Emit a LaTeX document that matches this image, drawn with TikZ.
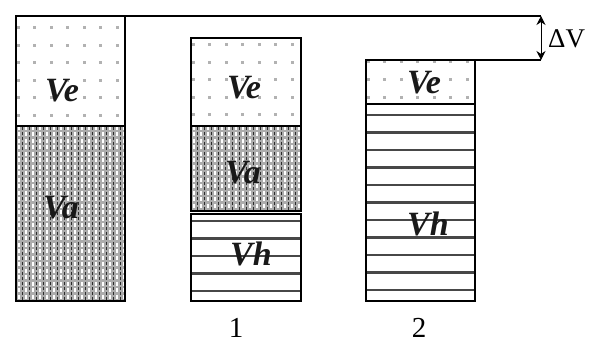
\documentclass[tikz,border=0pt]{standalone}
\usepackage{fontspec}
\setmainfont{Liberation Serif}
\usetikzlibrary{arrows.meta}
\begin{document}
\begin{tikzpicture}[x=1pt,y=-1pt,
  box/.style={draw=black,line width=1.5pt},
  vlab/.style={font=\fontsize{34}{34}\selectfont\bfseries\itshape, inner sep=0pt, text=black!90},
  numlab/.style={font=\fontsize{29}{29}\selectfont, inner sep=0pt},
  dvlab/.style={font=\fontsize{27}{27}\selectfont, inner sep=0pt, anchor=west},
  hl/.style={draw=black!72,line width=2.6pt},
  dotc/.style={fill=gray!60},
  conn/.style={draw=black,line width=1.2pt}]
\useasboundingbox (0,0) rectangle (594,344);
\fill[white] (0,0) rectangle (594,344);

% ---------- Ve dot regions
\begin{scope}
  \clip (16,16) rectangle (125,126);
  \foreach \x in {18,34.5,...,125} \foreach \y in {28,45.5,...,126}
    \fill[dotc] (\x-1.5,\y-1.5) rectangle (\x+1.5,\y+1.5);
\end{scope}
\begin{scope}
  \clip (191,38) rectangle (301,126);
  \foreach \x in {193,209.5,...,301} \foreach \y in {45,62.5,...,126}
    \fill[dotc] (\x-1.5,\y-1.5) rectangle (\x+1.5,\y+1.5);
\end{scope}
\begin{scope}
  \clip (366,60) rectangle (475,104);
  \foreach \x in {368,384.5,...,475} \foreach \y in {62,80,98}
    \fill[dotc] (\x-1.5,\y-1.5) rectangle (\x+1.5,\y+1.5);
\end{scope}

% ---------- Va textured regions
\begin{scope}
  \clip (16,126) rectangle (125,301);
  \fill[gray!65] (16,126) rectangle (125,301);
  \foreach \x in {19,26,...,125}
    \draw[white,line width=2pt,dash pattern=on 4pt off 2.5pt] (\x,126) -- (\x,301);
  \foreach \x in {22.5,29.5,...,125}
    \draw[gray!35!black,line width=0.7pt,dash pattern=on 3pt off 2pt] (\x,127) -- (\x,301);
\end{scope}
\begin{scope}
  \clip (191,126) rectangle (301,211);
  \fill[gray!65] (191,126) rectangle (301,211);
  \foreach \x in {194,201,...,301}
    \draw[white,line width=2pt,dash pattern=on 4pt off 2.5pt] (\x,126) -- (\x,211);
  \foreach \x in {197.5,204.5,...,301}
    \draw[gray!35!black,line width=0.7pt,dash pattern=on 3pt off 2pt] (\x,127) -- (\x,211);
\end{scope}

% ---------- Vh hatched regions
\foreach \y in {221,238.5,...,300}
  \draw[hl] (191,\y) -- (301,\y);
\foreach \y in {115,132.5,...,300}
  \draw[hl] (366,\y) -- (475,\y);

% ---------- outlines
\draw[box] (16,16) rectangle (125,301);
\draw[box] (16,126) -- (125,126);
\draw[box] (191,38) rectangle (301,211);
\draw[box] (191,126) -- (301,126);
\draw[box] (191,214) rectangle (301,301);
\draw[box] (366,60) rectangle (475,301);
\draw[box] (366,104) -- (475,104);

% ---------- level lines and delta arrow
\coordinate (Atop) at (125,16);
\coordinate (Btop) at (475,60);
\coordinate (dU) at (541,16);
\coordinate (dL) at (541,60);
\draw[conn] (Atop) -- (dU);
\draw[conn] (Btop) -- (dL);
\draw[line width=1pt,{Stealth[length=9pt,width=9pt]}-{Stealth[length=9pt,width=9pt]}] (dU) -- (dL);
\node[dvlab] (dv) at (548,39) {ΔV};

% ---------- labels
\node[vlab] (ve0) at (62,91) {Ve};
\node[vlab] (va0) at (61,208) {Va};
\node[vlab] (ve1) at (244,88) {Ve};
\node[vlab] (va1) at (243,173) {Va};
\node[vlab] (vh1) at (251,254) {Vh};
\node[vlab] (ve2) at (424,83) {Ve};
\node[vlab] (vh2) at (428,224) {Vh};
\node[numlab] (n1) at (236,328) {1};
\node[numlab] (n2) at (419,328) {2};
\end{tikzpicture}
\end{document}
